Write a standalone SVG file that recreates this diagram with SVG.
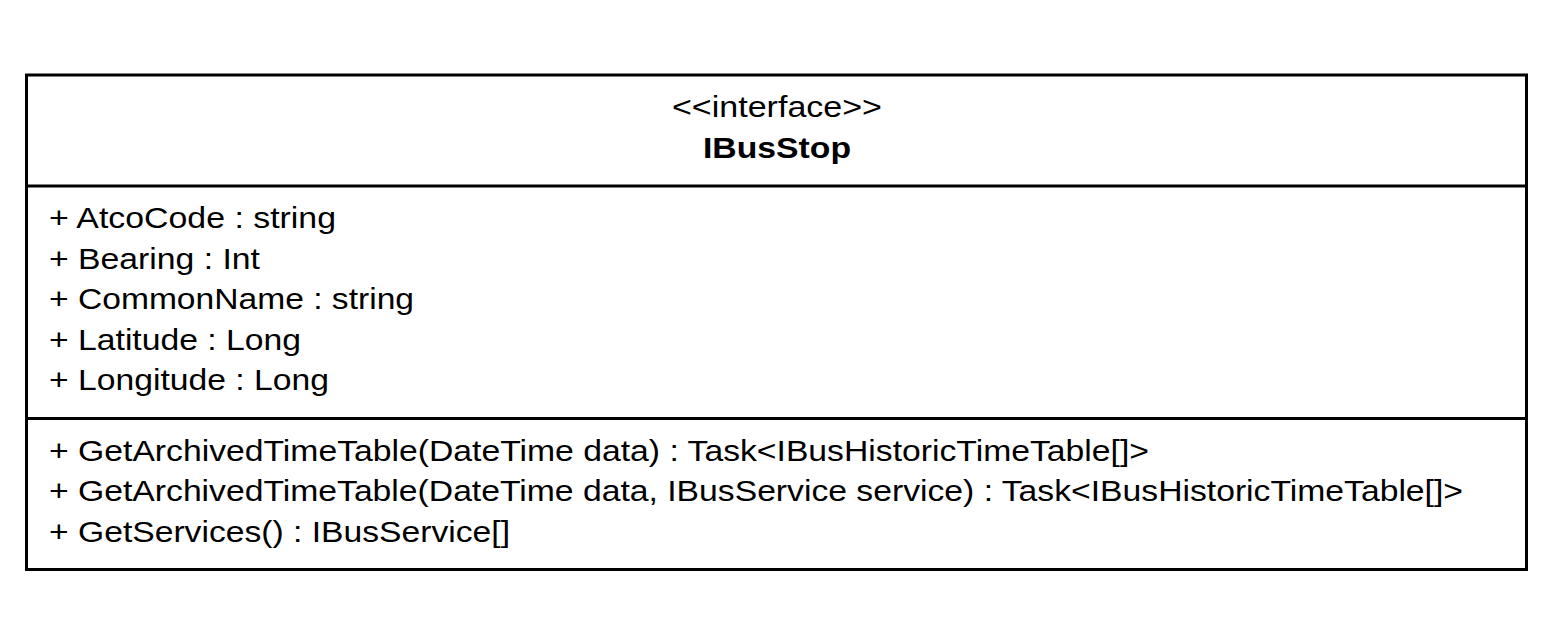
<svg xmlns="http://www.w3.org/2000/svg" width="1564" height="619" viewBox="0 0 1564 619">
<style>
.box{fill:#fff;stroke:#000;stroke-width:3}
.sep{stroke:#000;stroke-width:3}
.t{font-family:"Liberation Sans",Arial,sans-serif;font-size:29px;fill:#000}
.b{font-weight:bold}
</style>
<rect width="1564" height="619" fill="#fff"/>
<g id="IBusStop">
<rect class="box" x="26.5" y="75" width="1500" height="494.5"/>
<line class="sep" x1="26.5" y1="186" x2="1526.5" y2="186"/>
<line class="sep" x1="26.5" y1="418.5" x2="1526.5" y2="418.5"/>
<text class="t" x="672" y="117" textLength="210" lengthAdjust="spacingAndGlyphs">&lt;&lt;interface&gt;&gt;</text>
<text class="t b" x="703" y="158" textLength="148" lengthAdjust="spacingAndGlyphs">IBusStop</text>
<text class="t" x="49" y="228" textLength="287" lengthAdjust="spacingAndGlyphs">+ AtcoCode : string</text>
<text class="t" x="49" y="268.5" textLength="211" lengthAdjust="spacingAndGlyphs">+ Bearing : Int</text>
<text class="t" x="49" y="309" textLength="365" lengthAdjust="spacingAndGlyphs">+ CommonName : string</text>
<text class="t" x="49" y="349.5" textLength="252" lengthAdjust="spacingAndGlyphs">+ Latitude : Long</text>
<text class="t" x="49" y="390" textLength="280" lengthAdjust="spacingAndGlyphs">+ Longitude : Long</text>
<text class="t" x="49" y="460.5" textLength="1100" lengthAdjust="spacingAndGlyphs">+ GetArchivedTimeTable(DateTime data) : Task&lt;IBusHistoricTimeTable[]&gt;</text>
<text class="t" x="49" y="501" textLength="1414" lengthAdjust="spacingAndGlyphs">+ GetArchivedTimeTable(DateTime data, IBusService service) : Task&lt;IBusHistoricTimeTable[]&gt;</text>
<text class="t" x="49" y="541.5" textLength="461" lengthAdjust="spacingAndGlyphs">+ GetServices() : IBusService[]</text>
</g>
<g id="connectors"/>
</svg>
